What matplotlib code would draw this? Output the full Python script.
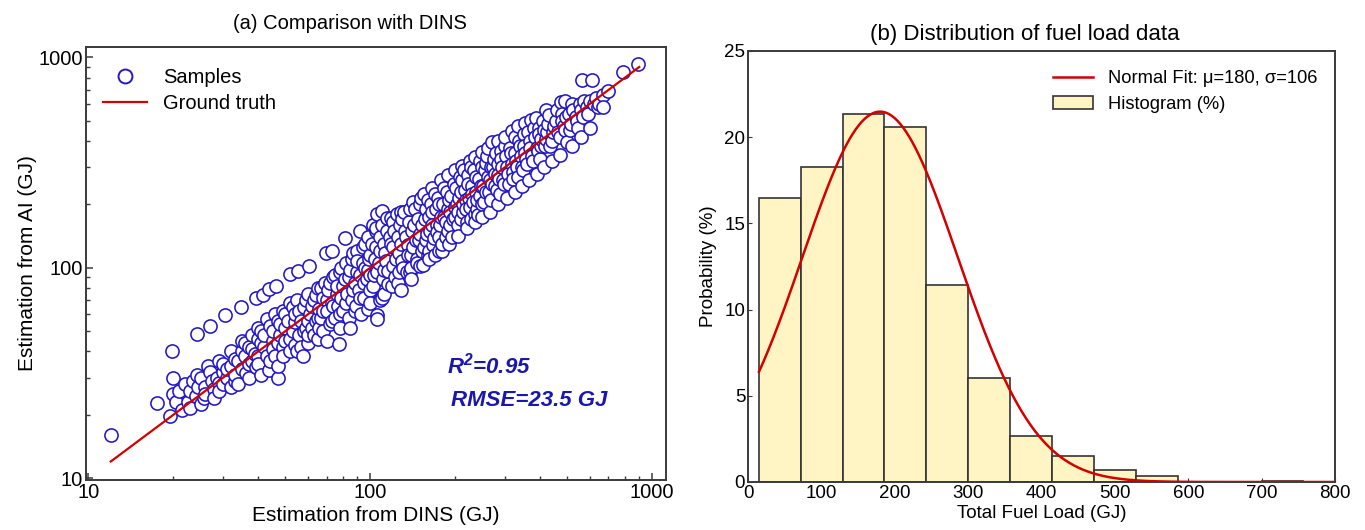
import numpy as np
import matplotlib.pyplot as plt
from matplotlib.lines import Line2D

plt.rcParams['font.family'] = ['Liberation Sans', 'DejaVu Sans']
plt.rcParams['mathtext.fontset'] = 'custom'
plt.rcParams['mathtext.bf'] = 'Liberation Sans:bold:italic'

# === Data: panel (a), (DINS, AI) estimates in GJ ===
samples = [
    # x 12-38
    (12, 16), (17.5, 22.7), (19.5, 19.8), (19.8, 40.4), (20, 30), (20, 25), (20.5, 23), (21, 26), (21.5, 21), (22, 28),
    (22.5, 23), (23, 26), (23, 21.5), (23.5, 29), (24, 24.5), (24.3, 48.6), (24.3, 31), (24.5, 27), (25, 22.5), (25, 30),
    (25.6, 24), (26, 27), (26, 25), (26.6, 34.2), (27, 32), (27.1, 52.9), (27.5, 29), (28, 26.5), (28, 24), (28.5, 30),
    (29, 28.4), (29, 36), (29, 26), (30, 32), (30, 28), (30, 35), (30.4, 59.8), (31, 30), (31, 33), (32, 34), (32, 27),
    (32, 40), (33, 37), (33, 29), (33, 31), (34, 36), (34, 28), (34.7, 65), (35, 40), (35, 33), (35, 45), (36.3, 31.7),
    (36, 44), (36, 38), (37, 35), (37, 30), (37, 42), (38, 41), (38, 36), (38, 48),
    # x 39-60
    (39.3, 72), (39.3, 33.7), (39, 39), (40, 46), (40, 38), (40, 35), (40, 52), (41.5, 74.5), (41, 50), (41, 44), (41, 31),
    (42, 42), (42, 48), (43, 38), (43, 57), (43.8, 79), (43.8, 32.8), (44, 53), (44, 36), (45, 45), (45, 50), (45, 41),
    (46.2, 82), (46, 38), (46, 60), (47, 30), (47, 56), (47, 44), (47, 34), (48, 48), (48, 54), (49, 42), (49, 38), (49, 62),
    (50, 60), (50, 52), (50, 45), (51, 56), (51.9, 93), (52, 46), (52, 40), (52, 68), (53, 65), (53, 50), (54, 55), (54, 43),
    (54, 60), (55.2, 97), (55, 40), (55, 70), (56, 62), (56, 48), (57, 56), (57, 42), (57.8, 38.2), (58, 50), (58, 65),
    (59, 70), (59, 52), (60, 56), (60.4, 102), (60, 44), (60, 75), (60, 48),
    # x 61-100
    (61, 60), (62, 66), (62, 52), (63, 48), (63, 70), (64, 74), (64, 56), (65, 58), (65, 80), (65, 46), (66, 52), (66, 64),
    (67, 80), (67, 58), (68, 62), (68, 72), (68, 50), (69.4, 117), (69, 85), (70, 70), (70, 45), (70, 62), (71, 78), (72, 85),
    (72, 54), (73, 120), (73, 56), (73, 68), (74, 66), (74, 90), (75, 92), (75, 58), (76, 75), (76, 82), (77.3, 43.5),
    (77, 66), (78, 60), (78, 95), (78, 52), (79, 100), (79, 72), (80, 82), (80, 62), (81.4, 138), (81, 88), (82, 68),
    (82, 105), (83, 75), (84, 90), (84, 58), (85, 51.5), (85, 98), (86, 110), (86, 70), (87, 78), (87, 118), (88, 62),
    (88, 85), (89, 66), (90, 95), (90, 120), (90, 108), (91, 78), (92, 149), (92, 72), (92, 92), (93, 60), (94, 105),
    (94, 125), (95, 85), (95, 72), (96, 130), (96, 100), (97, 88), (98, 64), (98, 98), (98, 140), (99, 110), (100, 115),
    (100, 78), (100, 92), (100, 68),
    # x 101-200
    (101, 130), (102, 160), (102, 82), (103, 92), (104, 110), (105, 125), (105, 150), (105, 155), (105.5, 59.6), (106, 180),
    (106, 57), (106, 95), (107, 105), (108, 140), (108, 120), (108, 70), (110, 186), (110, 72), (110, 160), (111, 88),
    (112, 98), (112, 75), (112, 130), (113, 118), (114, 108), (115, 150), (115, 172), (116, 84), (116, 96), (117, 140),
    (118, 130), (118, 172), (119, 82), (120, 102), (120, 165), (120, 125), (121, 150), (122, 90), (123, 110), (124, 180),
    (125, 140), (125, 85), (126, 118), (126, 95), (127, 160), (128, 78), (128, 185), (129, 130), (130, 170), (130, 108),
    (131, 100), (132, 185), (133, 150), (134, 140), (135, 95), (136, 128), (136, 115), (137, 165), (138, 190), (138, 95),
    (139, 100), (140, 115), (140, 88), (141, 150), (142, 125), (142, 205), (143, 160), (144, 190), (145, 135), (146, 110),
    (147, 105), (148, 170), (149, 135), (150, 200), (150, 145), (150, 102), (151, 215), (152, 120), (153, 160), (154, 103),
    (155, 125), (155, 225), (156, 170), (157, 190), (158, 135), (159, 145), (160, 115), (160, 210), (161, 175), (162, 120),
    (162, 110), (163, 150), (164, 200), (165, 185), (165, 240), (166, 160), (167, 128), (168, 138), (169, 115), (170, 225),
    (171, 190), (172, 160), (173, 148), (174, 215), (175, 140), (175, 120), (176, 200), (177, 160), (178, 175), (178, 262),
    (179, 120), (180, 130), (181, 200), (182, 240), (183, 175), (185, 165), (186, 140), (187, 230), (188, 150), (188, 275),
    (189, 190), (190, 210), (190, 130), (191, 160), (192, 185), (194, 220), (195, 140), (196, 170), (198, 250), (199, 195),
    (200, 175), (200, 290),
    # x 202-400
    (202, 240), (203, 200), (204, 185), (205, 160), (205, 142), (207, 215), (208, 270), (209, 170), (210, 230), (212, 260),
    (212, 305), (213, 185), (214, 200), (215, 290), (217, 235), (218, 210), (219, 190), (220, 165), (220, 155), (222, 275),
    (223, 250), (224, 215), (225, 195), (225, 320), (227, 170), (228, 300), (229, 245), (230, 225), (232, 205), (234, 290),
    (235, 180), (235, 165), (236, 335), (237, 230), (238, 270), (239, 190), (240, 210), (241, 179), (243, 265), (245, 320),
    (246, 220), (248, 245), (249, 300), (250, 200), (250, 355), (250, 175), (252, 245), (254, 205), (255, 290), (257, 315),
    (258, 230), (260, 340), (261, 270), (262, 370), (263, 230), (265, 260), (265, 185), (267, 300), (268, 210), (270, 250),
    (271, 394), (272, 300), (274, 330), (276, 245), (277, 280), (280, 350), (281, 235), (284, 310), (285, 275), (285, 400),
    (285, 200), (287, 265), (288, 225), (290, 360), (292, 330), (294, 300), (295, 260), (298, 250), (300, 380), (300, 420),
    (302, 340), (305, 300), (305, 215), (307, 280), (310, 250), (312, 370), (315, 350), (317, 310), (318, 445), (320, 285),
    (322, 265), (325, 420), (325, 230), (327, 350), (330, 320), (332, 300), (335, 270), (335, 470), (338, 400), (340, 380),
    (342, 340), (345, 300), (345, 245), (348, 290), (350, 430), (352, 380), (355, 350), (355, 490), (358, 330), (360, 310),
    (364, 440), (365, 260), (368, 400), (370, 370), (372, 505), (375, 340), (378, 320), (380, 460), (384, 420), (386, 517),
    (390, 370), (390, 280), (392, 360), (396, 462), (398, 430), (400, 330),
    # x 403-900
    (403, 380), (405, 410), (410, 500), (412, 450), (415, 300), (418, 380), (420, 410), (420, 560), (425, 440), (428, 480),
    (430, 530), (435, 380), (440, 400), (440, 320), (445, 440), (450, 470), (455, 500), (460, 560), (465, 440), (470, 420),
    (470, 345), (474, 612), (478, 540), (480, 500), (485, 470), (490, 450), (490, 620), (495, 520), (500, 398), (505, 540),
    (510, 450), (515, 480), (520, 600), (520, 380), (525, 560), (535, 520), (540, 500), (545, 460), (555, 600), (560, 560),
    (560, 420), (562, 780), (570, 520), (575, 620), (585, 580), (590, 540), (600, 620), (600, 460), (612, 780), (620, 600),
    (630, 640), (640, 580), (650, 600), (668, 659), (668, 578), (700, 690), (785, 849), (894, 929),
]
dins_gj = [p[0] for p in samples]
ai_gj = [p[1] for p in samples]
truth_range = [12, 900]
r2_text = r"R$^{\mathbf{2}}$=0.95"
rmse_text = "RMSE=23.5 GJ"

# === Data: panel (b), histogram of total fuel load ===
bin_edges = [15, 72, 129, 186, 243, 300, 357, 414, 472, 529, 586, 643, 700, 757]
hist_pct = [16.45, 18.25, 21.35, 20.6, 11.45, 6.05, 2.65, 1.5, 0.72, 0.33, 0.0, 0.0, 0.08]
fit_mu = 180
fit_sigma = 106

# =========================================================
# FIGURE
# =========================================================
W, H = 1365, 530
fig = plt.figure(figsize=(W / 100, H / 100), dpi=100)

def px_axes(left, top, right, bottom):
    return fig.add_axes([left / W, (H - bottom) / H, (right - left) / W, (bottom - top) / H])

ax1 = px_axes(86, 47, 666, 480)
ax2 = px_axes(748, 51, 1335, 482)

spine_col = '#3a3a3a'
blue = '#2318c4'
red = '#d40000'

# --- (a) scatter ---
ax1.scatter(dins_gj, ai_gj, s=90, facecolors='white', edgecolors=blue, linewidths=1.15, zorder=2)
ax1.plot(truth_range, truth_range, color=red, lw=1.6, zorder=3)
ax1.set_xscale('log')
ax1.set_yscale('log')
ax1.set_xlim(9.8, 1120)
ax1.set_ylim(9.8, 1120)
ax1.set_xticks([10, 100, 1000], ['10', '100', '1000'])
ax1.set_yticks([10, 100, 1000], ['10', '100', '1000'])
ax1.tick_params(which='both', direction='in', top=False, right=False, labelsize=14.5, color=spine_col)
ax1.tick_params(which='major', length=5, width=1.1, pad=2)
ax1.tick_params(which='minor', length=3, width=1.0)
ax1.set_xlabel('Estimation from DINS (GJ)', fontsize=15, labelpad=3)
ax1.set_ylabel('Estimation from AI (GJ)', fontsize=15, labelpad=1)
ax1.set_title('(a) Comparison with DINS', fontsize=14.5, pad=13, x=0.455)

ax1.text(0.622, 0.245, r2_text, transform=ax1.transAxes, fontsize=16, color='#1a17ad',
         fontweight='bold', fontstyle='italic')
ax1.text(0.63, 0.17, rmse_text, transform=ax1.transAxes, fontsize=16, color='#1a17ad',
         fontweight='bold', fontstyle='italic')

handles1 = [
    Line2D([0], [0], marker='o', color='none', markerfacecolor='white', markeredgecolor=blue,
           markeredgewidth=1.4, markersize=10, label='Samples'),
    Line2D([0], [0], color=red, lw=1.6, label='Ground truth'),
]
ax1.legend(handles=handles1, loc='upper left', frameon=False, fontsize=14.5,
           handlelength=2.2, handletextpad=0.8, labelspacing=0.35,
           borderaxespad=0.3, bbox_to_anchor=(0.005, 0.985))

# --- (b) histogram ---
widths = np.diff(bin_edges)
ax2.bar(bin_edges[:-1], hist_pct, width=widths, align='edge', color='#fff5c4',
        edgecolor='#333333', linewidth=1.2, label='Histogram (%)', zorder=2)
xs = np.linspace(bin_edges[0], 800, 400)
bw = widths.mean()
fit = 100 * bw * np.exp(-(xs - fit_mu) ** 2 / (2 * fit_sigma ** 2)) / (fit_sigma * np.sqrt(2 * np.pi))
ax2.plot(xs, fit, color=red, lw=1.8, label=f'Normal Fit: μ={fit_mu}, σ={fit_sigma}', zorder=3)
ax2.set_xlim(0, 800)
ax2.set_ylim(0, 25)
ax2.set_xticks(range(0, 801, 100))
ax2.set_yticks(range(0, 26, 5))
ax2.tick_params(direction='in', top=False, right=False, labelsize=13.5, length=3, color=spine_col, pad=2)
ax2.set_xlabel('Total Fuel Load (GJ)', fontsize=13.5, labelpad=2)
ax2.set_ylabel('Probability (%)', fontsize=13.5, labelpad=5)
ax2.set_title('(b) Distribution of fuel load data', fontsize=16, pad=8, x=0.472)
ax2.legend(loc='upper right', frameon=False, fontsize=13.2, handlelength=2.2,
           handletextpad=0.8, labelspacing=0.5, borderaxespad=0.4,
           bbox_to_anchor=(0.995, 0.99))

for ax in (ax1, ax2):
    for sp in ax.spines.values():
        sp.set_color(spine_col)
        sp.set_linewidth(1.4)

plt.savefig('out.png', dpi=100)
